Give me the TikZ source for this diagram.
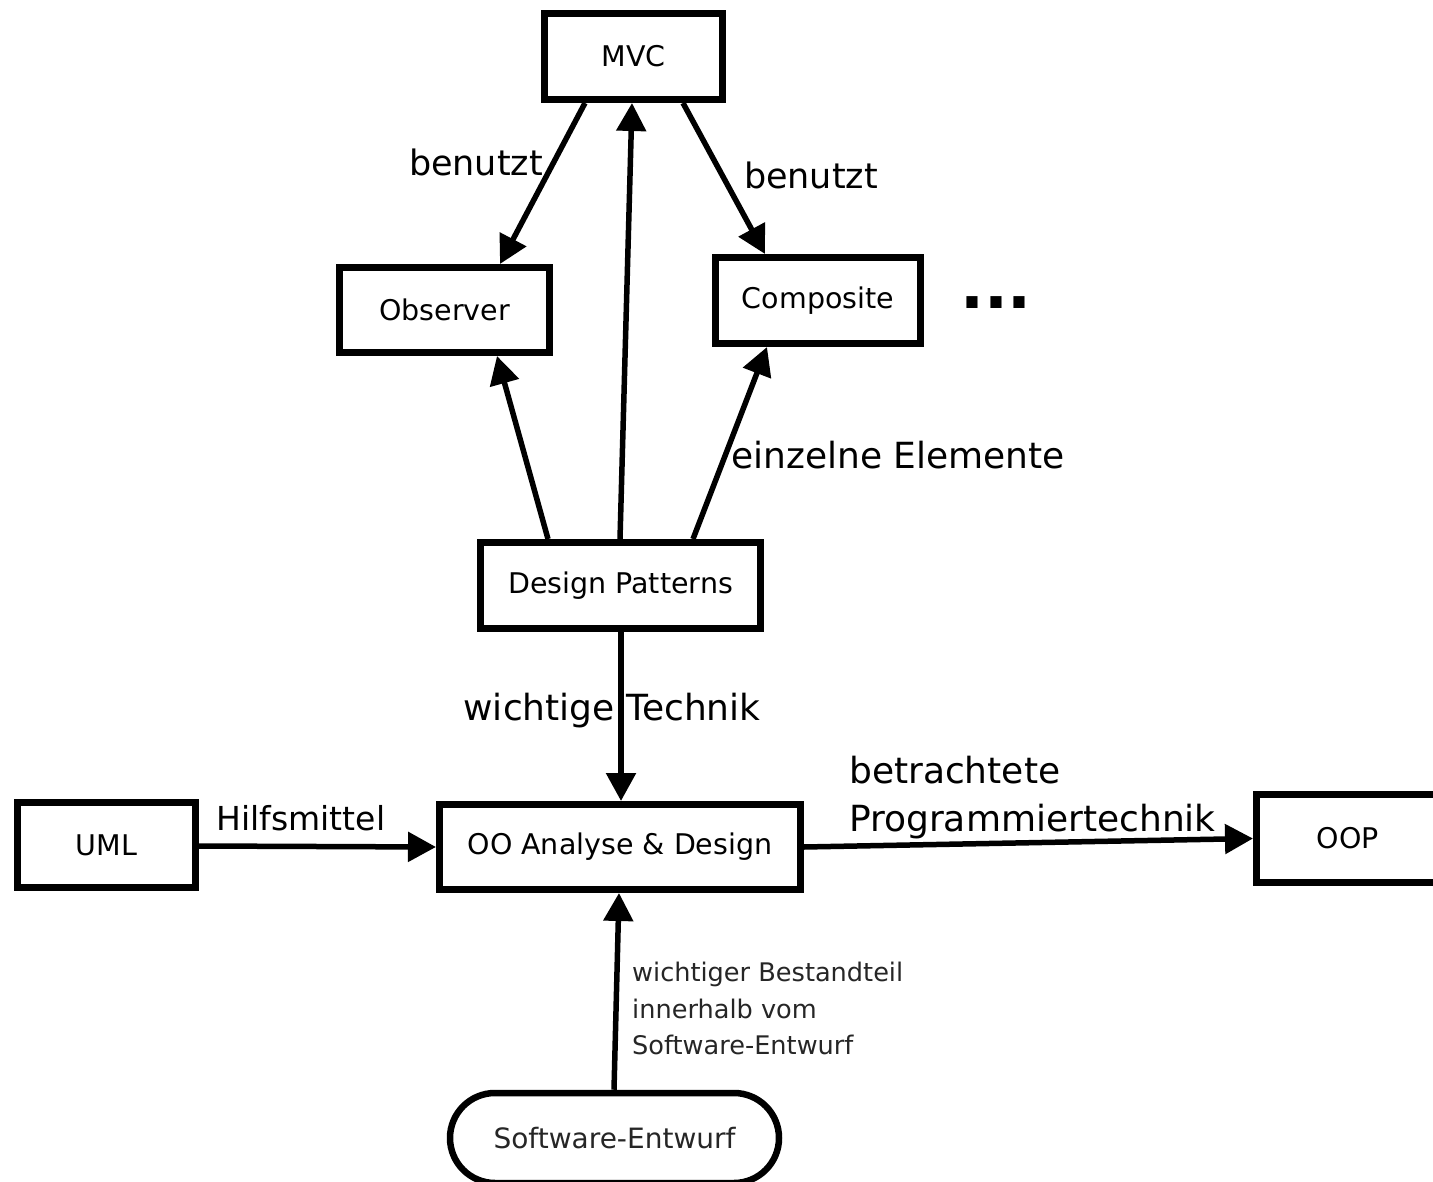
\documentclass[tikz,border=0pt]{standalone}
\usepackage{fontspec}
\setmainfont{DejaVu Sans}
\usetikzlibrary{arrows.meta,shapes.misc}

\begin{document}
\begin{tikzpicture}[x=1pt,y=-1pt,
  box/.style={draw, line width=7pt, rectangle, inner sep=0pt,
    font=\fontsize{28.5}{34}\selectfont},
  pill/.style={draw, line width=6.5pt, rounded rectangle, inner sep=0pt,
    font=\fontsize{28}{34}\selectfont, text=black!85},
  conn/.style={line width=5.5pt, -{Triangle[length=28pt,width=29pt]}},
  lbl/.style={inner sep=0pt, font=\fontsize{36}{48}\selectfont},
  note/.style={inner sep=0pt, font=\fontsize{25.6}{36.5}\selectfont, text=black!85}
]
  % page frame
  \fill[white] (0,0) rectangle (1433,1182);
  \useasboundingbox (0,0) rectangle (1433,1182);

  % boxes
  \node[box, minimum width=178pt, minimum height=86pt] (mvc)  at (633.5,56.5) {MVC};
  \node[box, minimum width=210pt, minimum height=85pt] (obs)  at (444.5,310)  {Observer};
  \node[box, minimum width=205pt, minimum height=86pt] (comp) at (818,300.5)  {Composite};
  \node[inner sep=0pt, font=\fontsize{63}{63}\selectfont\bfseries] (more) at (996,303) {...};
  \node[box, minimum width=280pt, minimum height=86pt] (dp)   at (620.5,585.5) {Design Patterns};
  \node[box, minimum width=361pt, minimum height=85pt] (oo)   at (620,847)    {OO Analyse \& Design};
  \node[box, minimum width=178pt, minimum height=85pt] (uml)  at (106.5,845)  {UML};
  \node[box, minimum width=183pt, minimum height=88pt] (oop)  at (1348,838.5) {OOP};
  \node[pill, minimum width=329pt, minimum height=90pt] (se)  at (614.5,1138) {Software-Entwurf};

  % connectors
  \draw[conn] ([xshift=-48.5pt]mvc.south) -- ([xshift=55.5pt]obs.north);
  \draw[conn] ([xshift=49.5pt]mvc.south) -- ([xshift=-53pt]comp.north);
  \draw[conn] ([xshift=-0.5pt]dp.north) -- ([xshift=-1.5pt]mvc.south);
  \draw[conn] ([xshift=-72.5pt]dp.north) -- ([xshift=52.5pt]obs.south);
  \draw[conn] ([xshift=72.5pt]dp.north) -- ([xshift=-51pt]comp.south);
  \draw[conn] ([xshift=0.5pt]dp.south) -- ([xshift=1pt]oo.north);
  \draw[conn] ([yshift=-1pt]uml.east) -- (oo.west);
  \draw[conn] (oo.east) -- (oop.west);
  \draw[conn] ([xshift=-0.5pt]se.north) -- ([xshift=-1pt]oo.south);

  % connector labels
  \node[lbl, font=\fontsize{35}{48}\selectfont] (l1) at (476,162) {benutzt};
  \node[lbl, font=\fontsize{35}{48}\selectfont] (l2) at (811,175) {benutzt};
  \node[lbl] (l3) at (898,455) {einzelne Elemente};
  \node[lbl] (l4) at (612,711) {wichtige Technik};
  \node[lbl, font=\fontsize{33}{48}\selectfont] (l5) at (301,818) {Hilfsmittel};
  \node[lbl, anchor=north west, align=left] (l6) at (849,756)
    {betrachtete\\Programmiertechnik};
  \node[note, anchor=north west, align=left] (l7) at (632,962)
    {wichtiger Bestandteil\\innerhalb vom\\Software-Entwurf};
\end{tikzpicture}
\end{document}
